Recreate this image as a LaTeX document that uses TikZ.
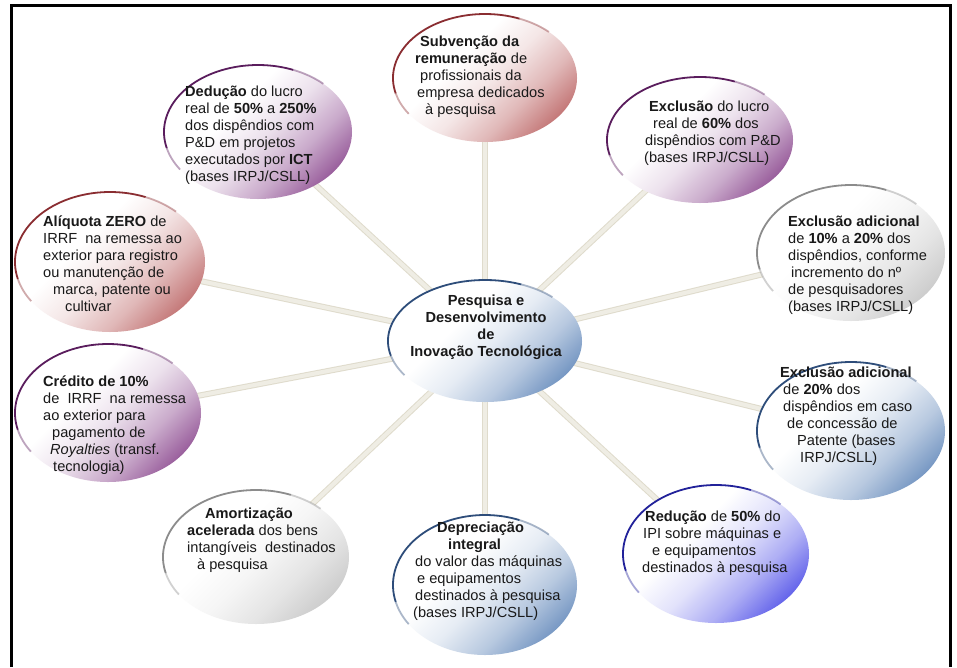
\documentclass[tikz,border=0pt]{standalone}
\usepackage{fontspec}
\setmainfont{Liberation Sans}
\usetikzlibrary{shapes.geometric,backgrounds}

% bubble colours: body and darker rim
\definecolor{cRed}{HTML}{B24E4E}
\definecolor{cRedRim}{HTML}{8A2D31}
\definecolor{cPur}{HTML}{7A2D7E}
\definecolor{cPurRim}{HTML}{5A1D5D}
\definecolor{cGry}{HTML}{BDBDBD}
\definecolor{cGryRim}{HTML}{8C8C8C}
\definecolor{cSteel}{HTML}{4D78B1}
\definecolor{cSteelRim}{HTML}{2E4D7A}
\definecolor{cBlue}{HTML}{3434E4}
\definecolor{cBlueRim}{HTML}{22229A}
\definecolor{spokeIn}{HTML}{EFEDE4}
\definecolor{spokeOut}{HTML}{DFDBCC}

% white at the upper left, running into the colour at the lower right
\newcommand\mkbubshade[1]{%
  \pgfdeclarehorizontalshading{bub#1}{100bp}{%
    color(0bp)=(white); color(40bp)=(white);
    color(52bp)=(#1!14!white); color(64bp)=(#1!40!white);
    color(75bp)=(#1!75!white); color(84bp)=(#1); color(100bp)=(#1)}}
\mkbubshade{cRed}
\mkbubshade{cPur}
\mkbubshade{cGry}
\mkbubshade{cSteel}
\mkbubshade{cBlue}

\tikzset{
  bubshape/.style={ellipse, inner sep=0pt, draw=none, shading angle=-45},
  spoke/.style={draw=spokeOut, line width=1pt, double=spokeIn, double distance=4pt},
  txt/.style={anchor=north west, inner sep=0pt, align=left, text=black!90,
              font=\fontsize{14.6}{17}\selectfont},
  ctxt/.style={anchor=north, inner sep=0pt, align=center, text=black!90,
              font=\fontsize{14.6}{17}\selectfont\bfseries},
}

% \bubble{name}{x}{y}{rx}{ry}{colour}
\newcommand\bubble[6]{%
  \node[bubshape, shading=bub#6, minimum width=#4*2pt, minimum height=#5*2pt] (#1) at (#2,#3) {};
  \draw[#6Rim, line width=1.8pt, opacity=.4]
    ([shift={(#2,#3)}]146:#4 and #5) arc[start angle=146, end angle=166, x radius=#4, y radius=#5];
  \draw[#6Rim, line width=1.8pt]
    ([shift={(#2,#3)}]166:#4 and #5) arc[start angle=166, end angle=292, x radius=#4, y radius=#5];
  \draw[#6Rim, line width=1.8pt, opacity=.4]
    ([shift={(#2,#3)}]292:#4 and #5) arc[start angle=292, end angle=314, x radius=#4, y radius=#5];
}

\begin{document}
\begin{tikzpicture}[x=1pt, y=-1pt]
\useasboundingbox (0,0) rectangle (957,667);

% frame
\draw[line width=3pt] (11,667) -- (11,5) -- (950,5) -- (950,667);

% bubbles
\bubble{ctr}{485}{341}{97}{61}{cSteel}
\bubble{b1}{485}{78}{92}{64}{cRed}
\bubble{b2}{258}{132}{94}{67}{cPur}
\bubble{b3}{700}{140}{93}{63}{cPur}
\bubble{b4}{110}{262}{95}{70}{cRed}
\bubble{b5}{851}{253}{94}{68}{cGry}
\bubble{b6}{108}{413}{93}{69}{cPur}
\bubble{b7}{851}{431}{94}{69}{cSteel}
\bubble{b8}{256}{557}{93}{67}{cGry}
\bubble{b9}{485}{585}{92}{70}{cSteel}
\bubble{b10}{716}{554}{93}{69}{cBlue}

% white ground and spokes behind the bubbles
\begin{pgfonlayer}{background}
\fill[white] (0,0) rectangle (957,667);
\foreach \b in {b1,b2,b3,b4,b5,b6,b7,b8,b9,b10}
  \draw[spoke] (ctr.center) -- (\b.center);
\end{pgfonlayer}

% texts
\node[ctxt] (tctr) at (486,295) {Pesquisa e\\Desenvolvimento\\de\\Inovação Tecnológica};

\node[txt] (t1) at (415,36) {%
\hspace*{5pt}\textbf{Subvenção da}\\
\textbf{remuneração} de\\
\hspace*{5pt}profissionais da\\
\hspace*{2pt}empresa dedicados\\
\hspace*{10pt}à pesquisa};

\node[txt] (t2) at (185,86) {%
\textbf{Dedução} do lucro\\
real de \textbf{50\%} a \textbf{250\%}\\
dos dispêndios com\\
P\&D em projetos\\
executados por \textbf{ICT}\\
(bases IRPJ/CSLL)};

\node[txt] (t3) at (644,101) {%
\hspace*{5pt}\textbf{Exclusão} do lucro\\
\hspace*{9pt}real de \textbf{60\%} dos\\
\hspace*{1pt}dispêndios com P\&D\\
(bases IRPJ/CSLL)};

\node[txt] (t4) at (43,216) {%
\textbf{Alíquota ZERO} de\\
IRRF\ \ na remessa ao\\
exterior para registro\\
ou manutenção de\\
\hspace*{10pt}marca, patente ou\\
\hspace*{22pt}cultivar};

\node[txt] (t5) at (788,216) {%
\textbf{Exclusão adicional}\\
de \textbf{10\%} a \textbf{20\%} dos\\
dispêndios, conforme\\
\hspace*{3pt}incremento do nº\\
de pesquisadores\\
(bases IRPJ/CSLL)};

\node[txt] (t6) at (43,376) {%
\textbf{Crédito de 10\%}\\
de\ \ IRRF\ \ na remessa\\
ao exterior para\\
\hspace*{9pt}pagamento de\\
\hspace*{7pt}\textit{Royalties} (transf.\\
\hspace*{10pt}tecnologia)};

\node[txt] (t7) at (780,367) {%
\textbf{Exclusão adicional}\\
\hspace*{3pt}de \textbf{20\%} dos\\
\hspace*{3pt}dispêndios em caso\\
\hspace*{7pt}de concessão de\\
\hspace*{17pt}Patente (bases\\
\hspace*{20pt}IRPJ/CSLL)};

\node[txt] (t8) at (187,508) {%
\hspace*{18pt}\textbf{Amortização}\\
\textbf{acelerada} dos bens\\
intangíveis\ \ destinados\\
\hspace*{10pt}à pesquisa};

\node[txt] (t9) at (413,522) {%
\hspace*{24pt}\textbf{Depreciação}\\
\hspace*{35pt}\textbf{integral}\\
\hspace*{2pt}do valor das máquinas\\
\hspace*{4pt}e equipamentos\\
\hspace*{2pt}destinados à pesquisa\\
(bases IRPJ/CSLL)};

\node[txt] (t10) at (642,511) {%
\hspace*{3pt}\textbf{Redução} de \textbf{50\%} do\\
\hspace*{1pt}IPI sobre máquinas e\\
\hspace*{10pt}e equipamentos\\
destinados à pesquisa};
\end{tikzpicture}
\end{document}
